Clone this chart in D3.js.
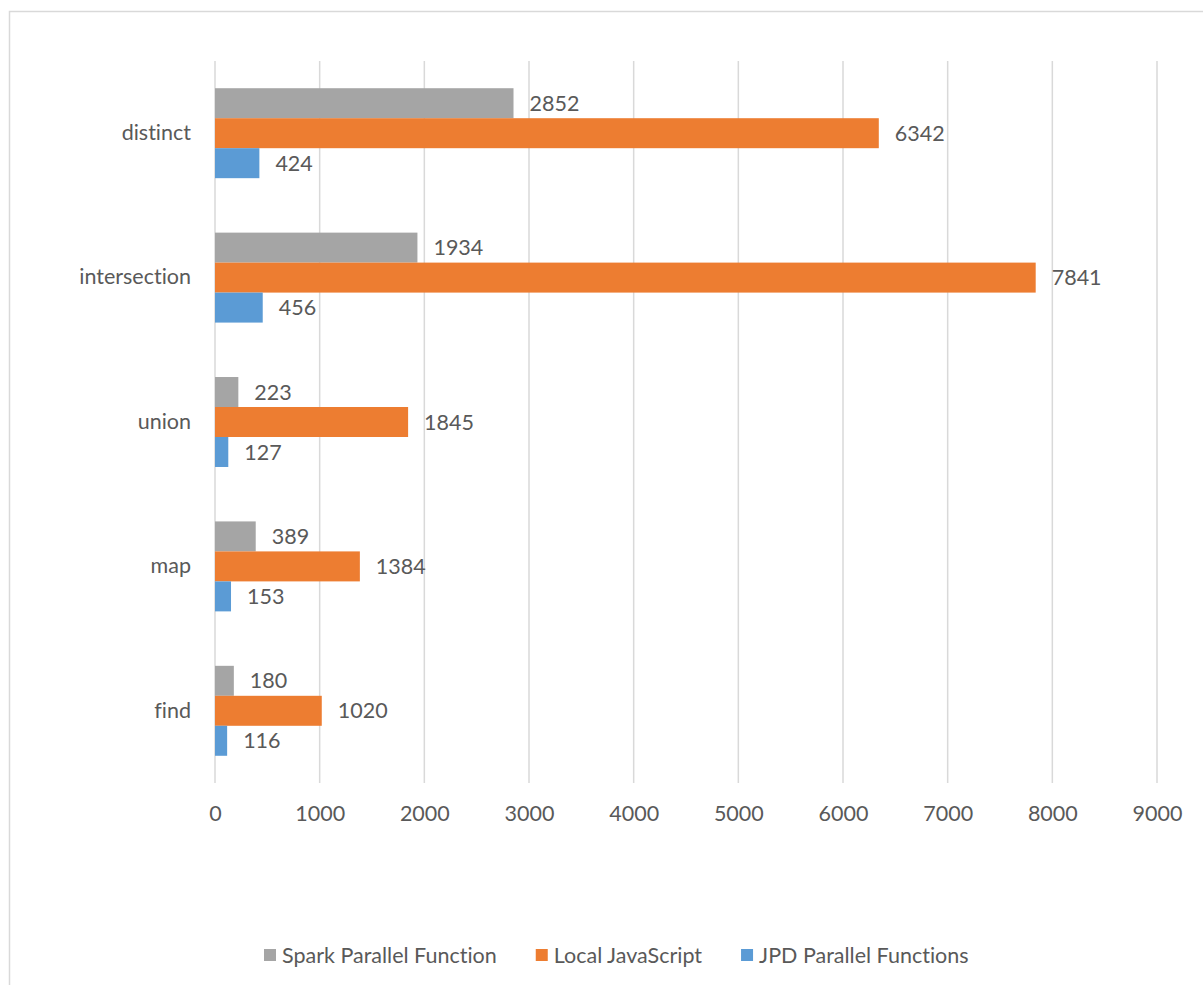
<!DOCTYPE html>
<html><head><meta charset="utf-8">
<script src="https://cdn.jsdelivr.net/npm/d3@7/dist/d3.min.js"></script>
<style>body{margin:0;background:#fff}svg{display:block}text{font-family:Lato,"Open Sans",sans-serif;fill:#595959;font-variant-ligatures:none}</style>
</head><body><svg id="c" width="1203" height="985"></svg>
<script>
const categories = ["distinct","intersection","union","map","find"];
const seriesNames = ["Spark Parallel Function","Local JavaScript","JPD Parallel Functions"];
const sparkValues = [2852,1934,223,389,180];
const localValues = [6342,7841,1845,1384,1020];
const jpdValues = [424,456,127,153,116];
const xTicks = [0,1000,2000,3000,4000,5000,6000,7000,8000,9000];
const colors = ["#A5A5A5","#ED7D31","#5B9BD5"];

const allSeries = [sparkValues, localValues, jpdValues];
const svg = d3.select("#c");
const fs = 21.5;

svg.append("rect").attr("x",9.5).attr("y",11.5).attr("width",1250).attr("height",1050)
  .attr("fill","#fff").attr("stroke","#D9D9D9").attr("stroke-width",1.5);

const x = d3.scaleLinear().domain([0,9000]).range([215,1157]);
const y = d3.scaleBand().domain(categories).range([61,783]).paddingInner(0.377).paddingOuter(0.1885);
const ys = d3.scaleBand().domain(d3.range(3)).range([0,y.bandwidth()]);

// gridlines
svg.append("g").selectAll("line").data(xTicks).join("line")
  .attr("x1",d=>x(d)).attr("x2",d=>x(d)).attr("y1",61).attr("y2",783)
  .attr("stroke","#D9D9D9").attr("stroke-width",1.5);

// x axis labels
const xAxis = d3.axisBottom(x).tickValues(xTicks).tickSize(0).tickPadding(0).tickFormat(d3.format("d"));
const gx = svg.append("g").attr("transform","translate(0,813)").call(xAxis);
gx.select(".domain").remove();
gx.selectAll("text").attr("dy","0.35em").attr("y",0).style("font-size",fs+"px").style("font-family","Lato").attr("fill","#595959");

// y axis labels
const yAxis = d3.axisLeft(y).tickSize(0).tickPadding(24);
const gy = svg.append("g").attr("transform","translate(215,0)").call(yAxis);
gy.select(".domain").remove();
gy.selectAll("text").style("font-size",fs+"px").style("font-family","Lato").attr("fill","#595959");

// bars
allSeries.forEach((vals,si)=>{
  const g = svg.append("g");
  g.selectAll("rect").data(vals).join("rect")
    .attr("x",x(0)).attr("y",(d,i)=>y(categories[i])+ys(si))
    .attr("width",d=>x(d)-x(0)).attr("height",ys.bandwidth())
    .attr("fill",colors[si]);
  g.selectAll("text").data(vals).join("text")
    .attr("x",d=>x(d)+16).attr("y",(d,i)=>y(categories[i])+ys(si)+ys.bandwidth()/2)
    .attr("dy","0.35em").style("font-size",fs+"px").text(d=>d);
});

// legend
let lx = 264;
const ly = 955;
seriesNames.forEach((n,i)=>{
  const g = svg.append("g");
  g.append("rect").attr("x",lx).attr("y",ly-6).attr("width",12).attr("height",12).attr("fill",colors[i]);
  const t = g.append("text").attr("x",lx+18).attr("y",ly).attr("dy","0.35em").style("font-size",fs+"px").text(n);
  lx += 18 + t.node().getComputedTextLength() + 39;
});
</script></body></html>
